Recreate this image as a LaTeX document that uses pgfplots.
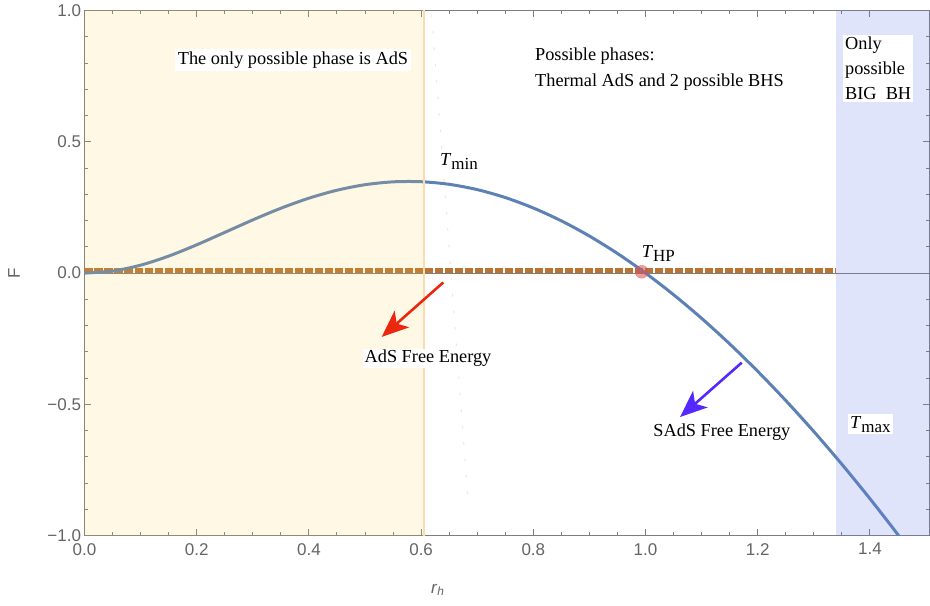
\documentclass[border=0pt]{standalone}
\usepackage{pgfplots}
\pgfplotsset{compat=1.18}
\usepackage{fontspec}
\setmainfont{Liberation Serif}
\newfontfamily\sansf{Liberation Sans}
\usetikzlibrary{arrows.meta}
\definecolor{curveblue}{RGB}{94,129,181}
\definecolor{dashbrown}{RGB}{185,115,50}
\definecolor{yellowfill}{RGB}{255,208,75}
\definecolor{bluefill}{RGB}{100,120,235}
\definecolor{orangeline}{RGB}{253,218,175}
\definecolor{faintpink}{RGB}{253,222,212}
\definecolor{arrowred}{RGB}{235,40,15}
\definecolor{arrowpurple}{RGB}{85,40,255}
\definecolor{dotred}{RGB}{220,80,80}
\definecolor{tickgray}{RGB}{100,100,100}
\definecolor{framegray}{RGB}{125,125,125}
\begin{document}
\begin{tikzpicture}
\begin{axis}[
  scale only axis, width=845.5pt, height=525.2pt,
  xmin=0, xmax=1.507, ymin=-1, ymax=1,
  xtick={0,0.2,0.4,0.6,0.8,1.0,1.2,1.4},
  xticklabels={0.0,0.2,0.4,0.6,0.8,1.0,1.2,1.4},
  ytick={-1,-0.5,0,0.5,1},
  yticklabels={−1.0,−0.5,0.0,0.5,1.0},
  minor x tick num=3, minor y tick num=4,
  tick align=inside,
  major tick length=7pt, minor tick length=4pt,
  tick style={color=framegray, line width=1pt},
  axis line style={color=framegray, line width=1.2pt},
  ticklabel style={font=\sansf\fontsize{17}{20}\selectfont, text=tickgray},
  xticklabel style={yshift=-4pt},
  xlabel={\textit{r}\textsubscript{\textit{h}}},
  ylabel={F},
  every axis x label/.style={at={(axis description cs:0.418,-0.1034)}, anchor=center, font=\sansf\fontsize{17}{20}\selectfont, text=tickgray},
  every axis y label/.style={at={(axis description cs:-0.0834,0.5)}, rotate=90, anchor=center, font=\sansf\fontsize{17}{20}\selectfont, text=tickgray},
  clip=true,
]
% y = 0 axis line
\addplot[color=framegray, line width=1pt] coordinates {(0,0) (1.507,0)};
% AdS free energy (dashed)
\addplot[color=dashbrown, line width=5pt, dash pattern=on 8.3pt off 1.7pt] coordinates {(0,0.009) (1.34,0.009)};
% SAdS free energy
\addplot[color=curveblue, line width=3pt, smooth] coordinates {
(0,0) (0.05,0.0078) (0.10,0.0302) (0.15,0.0647) (0.20,0.1077) (0.25,0.1550)
(0.30,0.2026) (0.35,0.2470) (0.40,0.2853) (0.45,0.3156) (0.50,0.3366)
(0.55,0.3475) (0.60,0.3480) (0.65,0.3381) (0.70,0.3179) (0.75,0.2877)
(0.80,0.2479) (0.85,0.1989) (0.90,0.1410) (0.95,0.0746) (1.00,0.0)
(1.05,-0.0824) (1.10,-0.1724) (1.15,-0.2697) (1.20,-0.3742) (1.25,-0.4855)
(1.30,-0.6035) (1.35,-0.7282) (1.40,-0.8592) (1.45,-0.9965) (1.46,-1.03)};
% shaded regions
\addplot[draw=none, fill=yellowfill, fill opacity=0.15] coordinates {(0,-1) (0.605,-1) (0.605,1) (0,1)} -- cycle;
\addplot[draw=none, fill=bluefill, fill opacity=0.2] coordinates {(1.34,-1) (1.6,-1) (1.6,1) (1.34,1)} -- cycle;
% boundary of the yellow region
\addplot[color=orangeline, line width=2pt] coordinates {(0.605,-1) (0.605,1)};
% faint dotted line
\addplot[color=faintpink, line width=1pt, dash pattern=on 2.5pt off 14pt] coordinates {(0.6188,0.985) (0.6836,-0.866)};
% Hawking-Page point
\addplot[only marks, mark=*, mark size=6.5pt, color=dotred, opacity=0.55] coordinates {(0.993,0.005)};
% arrows
\addplot[color=arrowred, line width=2.6pt, -{Stealth[length=27pt,width=22pt,inset=7pt]}] coordinates {(0.6395,-0.0355) (0.5297,-0.243)};
\addplot[color=arrowpurple, line width=2.6pt, -{Stealth[length=27pt,width=22pt,inset=7pt]}] coordinates {(1.1714,-0.341) (1.0615,-0.548)};
% texts
\node[fill=white, inner sep=2.5pt, font=\fontsize{18.3}{22}\selectfont] at (axis cs:0.3716,0.8113) {The only possible phase is AdS};
\node[anchor=base west, inner sep=0pt, font=\fontsize{18.3}{22}\selectfont] at (axis cs:0.8029,0.8114) {Possible phases:};
\node[anchor=base west, inner sep=0pt, font=\fontsize{18.3}{22}\selectfont] at (axis cs:0.8029,0.7124) {Thermal AdS and 2 possible BHS};
\node[anchor=north west, fill=white, align=left, inner sep=2pt, font=\fontsize{18.3}{24.8}\selectfont] at (axis cs:1.3518,0.9067) {Only\\possible\\BIG\ \ BH};
\node[anchor=base west, inner sep=0pt, font=\fontsize{18.3}{22}\selectfont] at (axis cs:0.6334,0.4114) {\textit{T}\raisebox{-4pt}{\fontsize{17}{17}\selectfont min}};
\node[anchor=base west, inner sep=0pt, font=\fontsize{18.3}{22}\selectfont] at (axis cs:0.9930,0.061) {\textit{T}\raisebox{-4pt}{\fontsize{17}{17}\selectfont HP}};
\node[anchor=base west, fill=white, inner sep=2pt, font=\fontsize{18.3}{22}\selectfont] at (axis cs:1.3607,-0.5905) {\textit{T}\raisebox{-4pt}{\fontsize{17}{17}\selectfont max}};
\node[anchor=base west, fill=white, inner sep=1.5pt, font=\fontsize{18.3}{22}\selectfont] at (axis cs:0.4963,-0.3417) {AdS Free Energy};
\node[anchor=base west, inner sep=0pt, font=\fontsize{18.3}{22}\selectfont] at (axis cs:1.0137,-0.621) {SAdS Free Energy};
\end{axis}
\pgfresetboundingbox
\path ([shift={(-84.5pt,-69.3pt)}]current axis.south west) rectangle ([shift={(0pt,10.5pt)}]current axis.north east);
\end{tikzpicture}
\end{document}
